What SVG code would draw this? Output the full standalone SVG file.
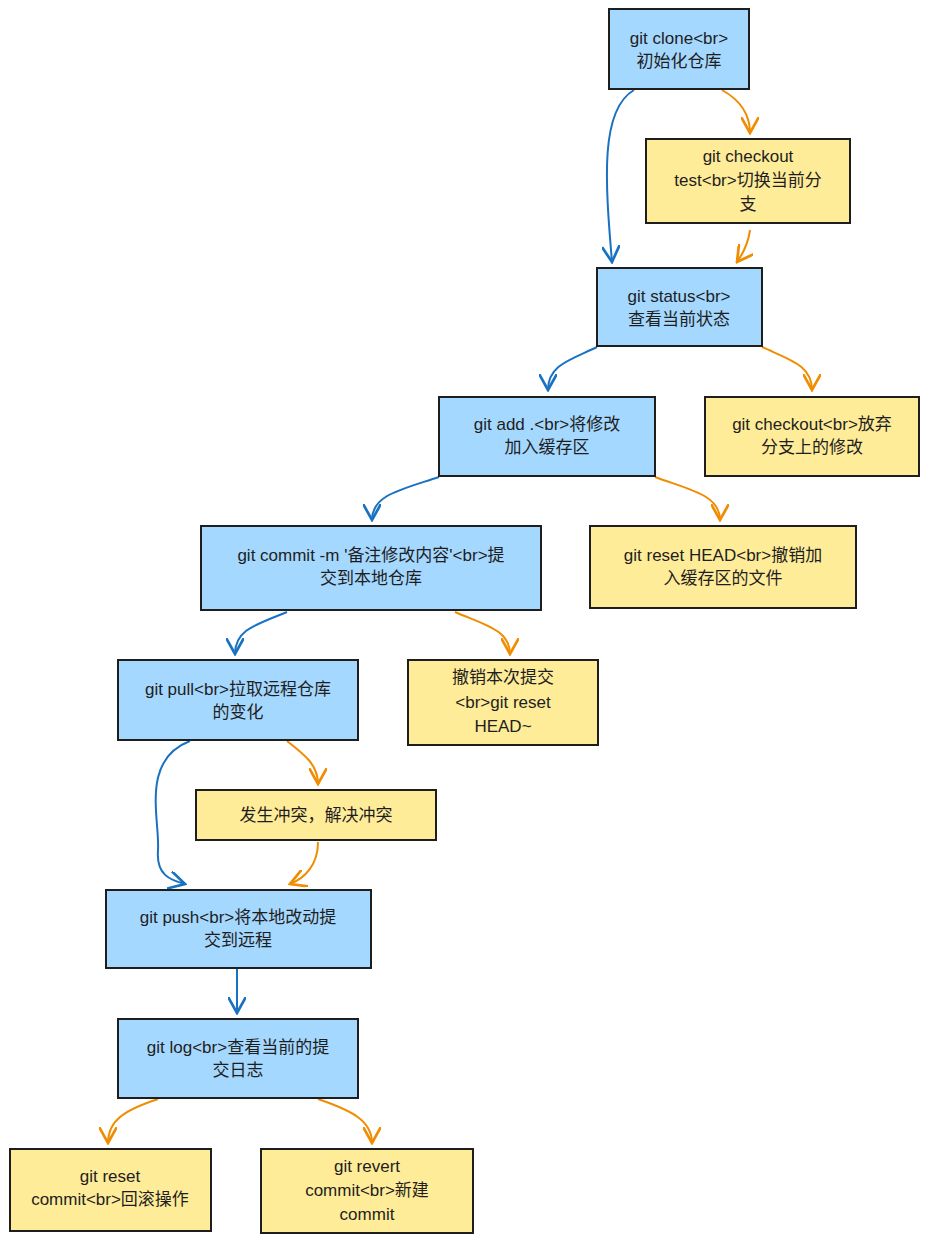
<svg xmlns="http://www.w3.org/2000/svg" width="929" height="1243" viewBox="0 0 929 1243">
<style>
.b{fill:#a5d8ff;stroke:#1e1e1e;stroke-width:2}
.y{fill:#ffec99;stroke:#1e1e1e;stroke-width:2}
text{font-family:"Liberation Sans","Noto Sans CJK SC",sans-serif;font-size:17px;fill:#1e1e1e;text-anchor:middle}
.cb{fill:none;stroke:#1971c2;stroke-width:2;marker-end:url(#ab)}
.co{fill:none;stroke:#f08c00;stroke-width:2;marker-end:url(#ao)}
</style>
<defs>
<marker id="ab" viewBox="0 0 10 10" refX="9" refY="5" markerWidth="9" markerHeight="9" orient="auto"><path d="M0,0 L9,5 L0,10" fill="none" stroke="#1971c2" stroke-width="1.5"/></marker>
<marker id="ao" viewBox="0 0 10 10" refX="9" refY="5" markerWidth="9" markerHeight="9" orient="auto"><path d="M0,0 L9,5 L0,10" fill="none" stroke="#f08c00" stroke-width="1.5"/></marker>
</defs>
<rect width="929" height="1243" fill="#fff"/>
<g id="connectors">
<path class="cb" d="M634,90 C600,110 605,180 612,262"/>
<path class="co" d="M722,90 C740,100 750,115 750,133"/>
<path class="co" d="M750,230 C748,245 742,255 737,262"/>
<path class="cb" d="M597,347 C570,360 548,365 548,390"/>
<path class="co" d="M762,347 C790,360 812,365 812,390"/>
<path class="cb" d="M439,477 C400,490 372,495 372,520"/>
<path class="co" d="M655,477 C690,490 720,495 720,520"/>
<path class="cb" d="M287,612 C255,625 235,630 235,654"/>
<path class="co" d="M455,612 C485,625 510,630 510,654"/>
<path class="cb" d="M190,741 C140,760 160,820 158,850 C156,875 170,880 185,884"/>
<path class="co" d="M287,741 C305,755 318,765 318,784"/>
<path class="co" d="M318,842 C318,865 305,878 290,884"/>
<path class="cb" d="M237,969 L237,1013"/>
<path class="co" d="M158,1099 C125,1110 108,1120 108,1143"/>
<path class="co" d="M318,1099 C350,1110 372,1120 372,1143"/>
</g>
<g id="n1"><rect class="b" x="609" y="9" width="140" height="80"/><text x="679" y="44">git clone&lt;br&gt;</text><text x="679" y="67">初始化仓库</text></g>
<g id="n2"><rect class="y" x="646" y="139" width="204" height="84"/><text x="748" y="162">git checkout</text><text x="748" y="186">test&lt;br&gt;切换当前分</text><text x="748" y="210">支</text></g>
<g id="n3"><rect class="b" x="597" y="268" width="165" height="78"/><text x="679" y="302">git status&lt;br&gt;</text><text x="679" y="325">查看当前状态</text></g>
<g id="n4"><rect class="b" x="439" y="397" width="216" height="79"/><text x="547" y="430">git add .&lt;br&gt;将修改</text><text x="547" y="453">加入缓存区</text></g>
<g id="n5"><rect class="y" x="705" y="397" width="214" height="79"/><text x="812" y="430">git checkout&lt;br&gt;放弃</text><text x="812" y="453">分支上的修改</text></g>
<g id="n6"><rect class="b" x="201" y="526" width="340" height="84"/><text x="371" y="561">git commit -m '备注修改内容'&lt;br&gt;提</text><text x="371" y="584">交到本地仓库</text></g>
<g id="n7"><rect class="y" x="590" y="526" width="266" height="82"/><text x="723" y="561">git reset HEAD&lt;br&gt;撤销加</text><text x="723" y="584">入缓存区的文件</text></g>
<g id="n8"><rect class="b" x="118" y="660" width="240" height="80"/><text x="238" y="695">git pull&lt;br&gt;拉取远程仓库</text><text x="238" y="718">的变化</text></g>
<g id="n9"><rect class="y" x="408" y="660" width="190" height="85"/><text x="503" y="683">撤销本次提交</text><text x="503" y="708">&lt;br&gt;git reset</text><text x="503" y="732">HEAD~</text></g>
<g id="n10"><rect class="y" x="196" y="790" width="240" height="50"/><text x="316" y="821">发生冲突，解决冲突</text></g>
<g id="n11"><rect class="b" x="106" y="890" width="265" height="78"/><text x="238" y="923">git push&lt;br&gt;将本地改动提</text><text x="238" y="946">交到远程</text></g>
<g id="n12"><rect class="b" x="118" y="1019" width="240" height="79"/><text x="238" y="1053">git log&lt;br&gt;查看当前的提</text><text x="238" y="1076">交日志</text></g>
<g id="n13"><rect class="y" x="10" y="1149" width="201" height="82"/><text x="110" y="1182">git reset</text><text x="110" y="1205">commit&lt;br&gt;回滚操作</text></g>
<g id="n14"><rect class="y" x="261" y="1149" width="212" height="84"/><text x="367" y="1172">git revert</text><text x="367" y="1196">commit&lt;br&gt;新建</text><text x="367" y="1220">commit</text></g>
</svg>
